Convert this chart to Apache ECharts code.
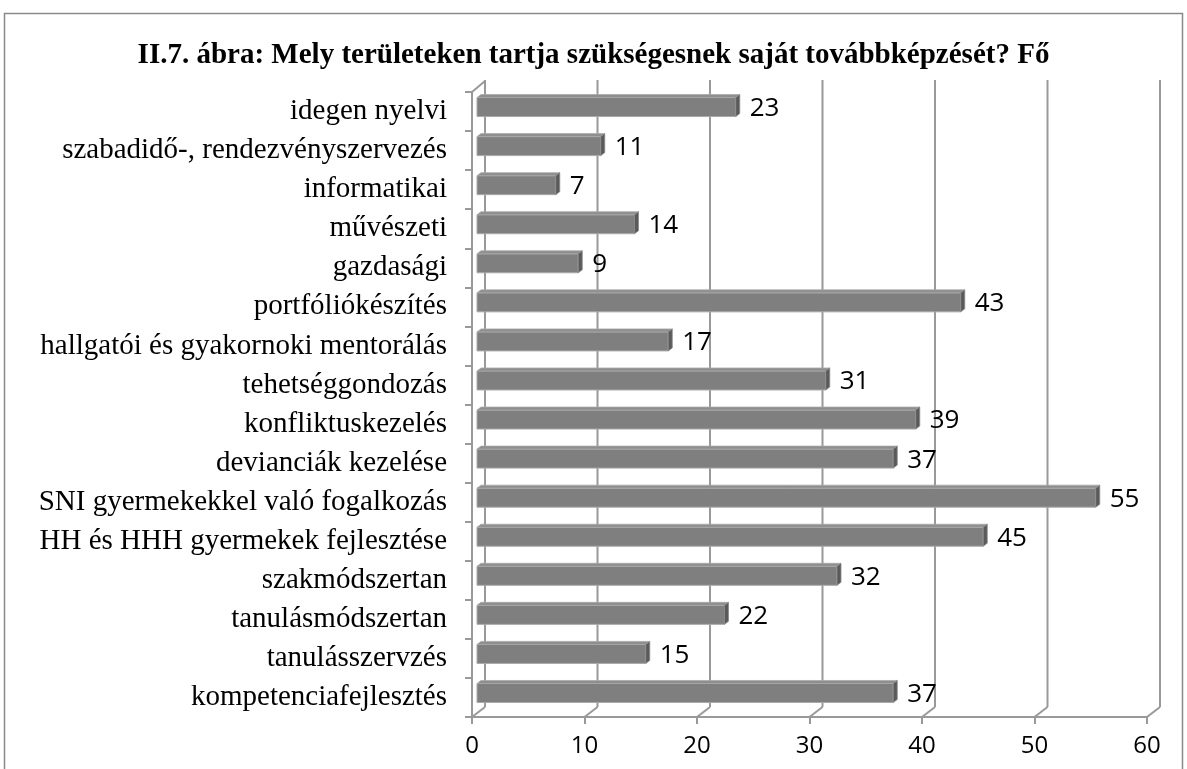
<!DOCTYPE html>
<html><head><meta charset="utf-8">
<script src="https://cdn.jsdelivr.net/npm/echarts@6/dist/echarts.min.js"></script>
<style>html,body{margin:0;padding:0;background:#fff}#c{width:1187px;height:769px}</style>
</head><body><div id="c"></div>
<script>
const titleText = 'II.7. ábra: Mely területeken tartja szükségesnek saját továbbképzését? Fő';
const categories = ['idegen nyelvi','szabadidő-, rendezvényszervezés','informatikai','művészeti','gazdasági','portfóliókészítés','hallgatói és gyakornoki mentorálás','tehetséggondozás','konfliktuskezelés','devianciák kezelése','SNI gyermekekkel való fogalkozás','HH és HHH gyermekek fejlesztése','szakmódszertan','tanulásmódszertan','tanulásszervzés','kompetenciafejlesztés'];
const values = [23,11,7,14,9,43,17,31,39,37,55,45,32,22,15,37];
const xTicks = [0,10,20,30,40,50,60];

const chart = echarts.init(document.getElementById('c'), null, {renderer:'canvas'});
const GRID = '#999999';
const DX = 13, DY = 10; // back wall offset
const option = {
  animation:false,
  backgroundColor:'#fff',
  title:{text:titleText,left:'center',top:36,textStyle:{fontFamily:'Liberation Serif',fontWeight:'bold',fontSize:29,color:'#000'}},
  graphic:[{type:'rect',shape:{x:4.5,y:13.5,width:1178,height:800},style:{fill:'none',stroke:'#8a8a8a',lineWidth:1.5},silent:true,z:-1}],
  grid:{left:472,top:92,width:675,height:625},
  xAxis:{type:'value',min:0,max:60,interval:10,
    axisLine:{show:true,lineStyle:{color:GRID,width:2}},
    axisTick:{show:true,length:7,lineStyle:{color:GRID,width:2}},
    axisLabel:{fontFamily:'Open Sans',fontSize:24,color:'#000',margin:17},
    splitLine:{show:false}},
  yAxis:{type:'category',data:categories,inverse:true,
    axisLine:{show:true,lineStyle:{color:GRID,width:2}},
    axisTick:{show:true,length:7,lineStyle:{color:GRID,width:2}},
    axisLabel:{fontFamily:'Liberation Serif',fontSize:29,color:'#000',margin:25}},
  series:[
    {type:'custom',data:xTicks.map(v=>[v]),z:1,silent:true,
     renderItem:function(params,api){
       const cs=params.coordSys;
       const v=api.value(0);
       const x=api.coord([v,0])[0];
       const yb=cs.y+cs.height;
       const topBack=cs.y-DY-2;
       const st={stroke:GRID,lineWidth:2};
       const ch=[
         {type:'line',shape:{x1:x,y1:yb,x2:x+DX,y2:yb-DY},style:st},
         {type:'line',shape:{x1:x+DX,y1:yb-DY,x2:x+DX,y2:topBack},style:st}
       ];
       if(v===0){ch.push({type:'line',shape:{x1:x,y1:cs.y,x2:x+DX,y2:topBack+1},style:st});}
       return {type:'group',children:ch};
     }},
    {type:'custom',data:values.map((v,i)=>[v,i]),z:5,silent:true,
     renderItem:function(params,api){
       const v=api.value(0), i=api.value(1);
       const p0=api.coord([0,i]), p1=api.coord([v,i]);
       const ox=5, oy=-6, h=19, dx=4, dy=3;
       const x0=p0[0]+ox, x1=p1[0]+ox, yc=p0[1]+oy;
       const yt=yc-h/2+dy/2, yb=yc+h/2+dy/2;
       return {type:'group',children:[
         {type:'rect',shape:{x:x0,y:yt,width:x1-x0,height:yb-yt},style:{fill:'#7f7f7f',stroke:'#a9a9a9',lineWidth:1}},
         {type:'polygon',shape:{points:[[x0,yt],[x1,yt],[x1+dx,yt-dy],[x0+dx,yt-dy]]},style:{fill:'#8e8e8e',stroke:'#a9a9a9',lineWidth:0.8}},
         {type:'polygon',shape:{points:[[x1,yt],[x1+dx,yt-dy],[x1+dx,yb-dy],[x1,yb]]},style:{fill:'#5a5a5a',stroke:'#8a8a8a',lineWidth:0.8}},
         {type:'text',style:{text:String(v),x:x1+dx+10,y:p0[1]-3,fill:'#000',font:'26px "Open Sans"',textVerticalAlign:'middle',textAlign:'left'}}
       ]};
     }}
  ]
};
chart.setOption(option);
</script></body></html>
